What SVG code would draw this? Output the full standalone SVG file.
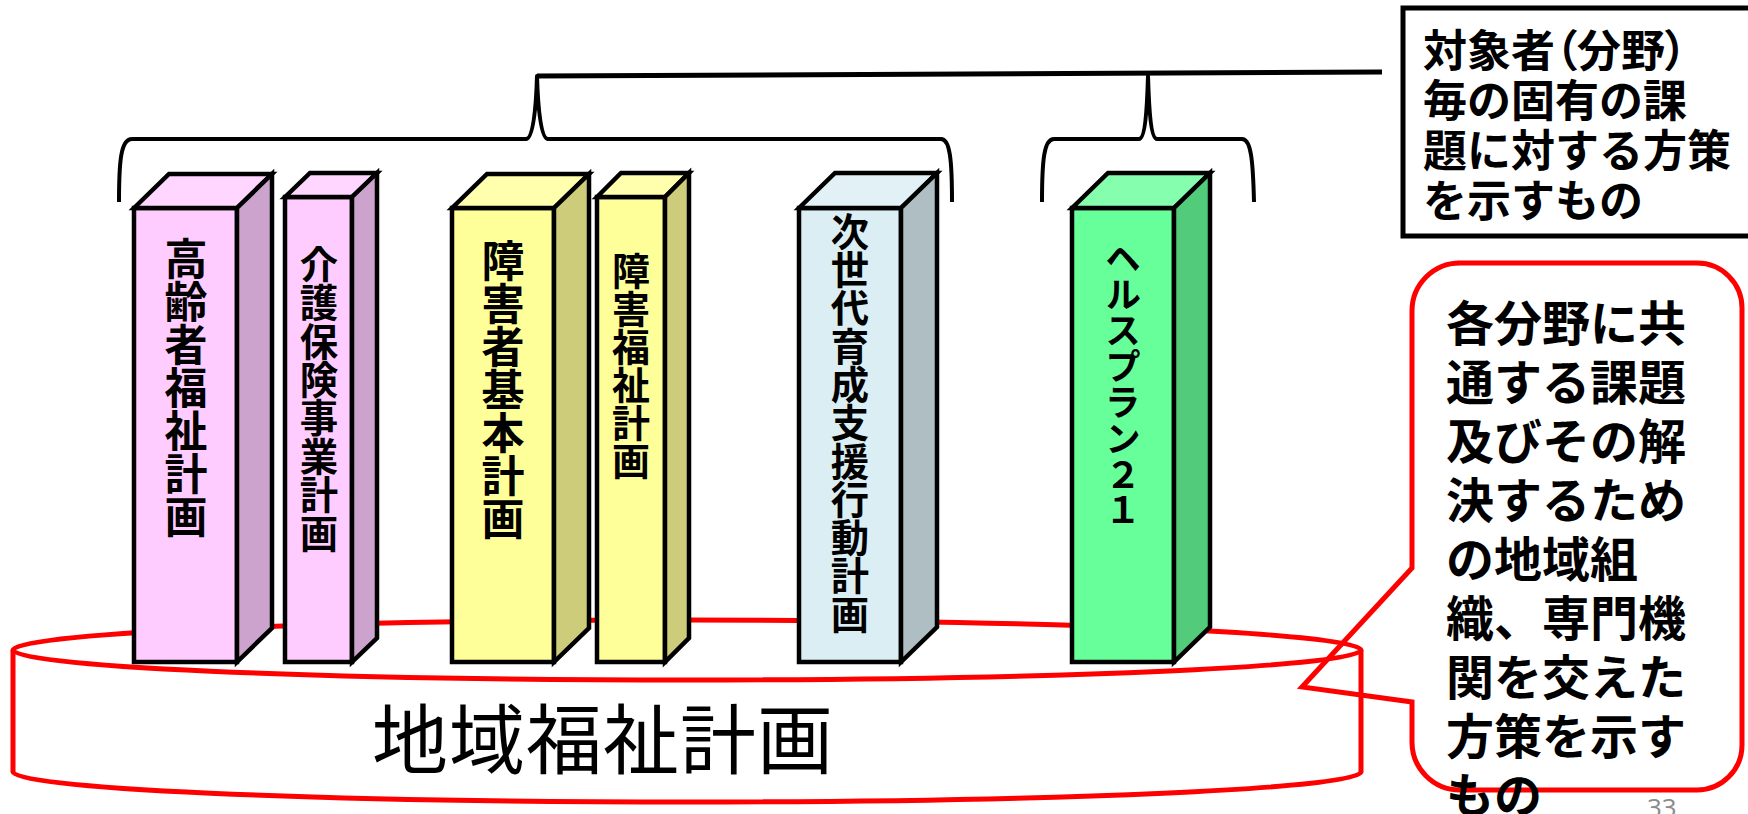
<svg xmlns="http://www.w3.org/2000/svg" width="1748" height="814" viewBox="0 0 1748 814">
<style>
.edge{stroke:#000;stroke-width:4.5;stroke-linejoin:miter}
.red{fill:none;stroke:#FF0000;stroke-width:5}
.vt{font-family:"Noto Sans CJK JP","Noto Sans CJK SC",sans-serif;writing-mode:vertical-rl;fill:#000}
.jp{font-family:"Noto Sans CJK JP","Noto Sans CJK SC",sans-serif;fill:#000}
.pf{fill:#FFCCFF}.pt{fill:#FFD6FF}.ps{fill:#CCA3CC}
.yf{fill:#FFFF99}.yt{fill:#FFFFAD}.ys{fill:#CCCC7A}
.bf{fill:#DAEEF3}.bt{fill:#E2F1F6}.bs{fill:#AEBEC2}
.gf{fill:#66FF99}.gt{fill:#85FFAD}.gs{fill:#52CC7A}
.brace{fill:none;stroke:#000;stroke-width:4;stroke-linejoin:round}
</style>
<rect width="1748" height="814" fill="#FFFFFF"/>

<g id="chiiki-fukushi-keikaku">
  <path d="M13,650 L13,772 A674,30 0 0 0 1361,772 L1361,650" fill="#FFFFFF" stroke="#FF0000" stroke-width="5"/>
  <ellipse cx="687" cy="650" rx="674" ry="30" fill="#FFFFFF" stroke="#FF0000" stroke-width="5"/>
  <text class="jp" x="372" y="768" font-size="76" letter-spacing="1">地域福祉計画</text>
</g>

<g id="block-koureisha">
  <polygon class="edge pf" points="134,208 237,208 237,662 134,662"/>
  <polygon class="edge pt" points="134,208 169,174 272,174 237,208"/>
  <polygon class="edge ps" points="237,208 272,174 272,628 237,662"/>
  <text class="vt" x="186" y="237" font-size="43" font-weight="700">高齢者福祉計画</text>
</g>

<g id="block-kaigo">
  <polygon class="edge pf" points="285,197 352,197 352,662 285,662"/>
  <polygon class="edge pt" points="285,197 310,173 377,173 352,197"/>
  <polygon class="edge ps" points="352,197 377,173 377,638 352,662"/>
  <text class="vt" x="319" y="245" font-size="38.4" font-weight="700">介護保険事業計画</text>
</g>

<g id="block-shougaisha">
  <polygon class="edge yf" points="452,208 554,208 554,662 452,662"/>
  <polygon class="edge yt" points="452,208 487,174 589,174 554,208"/>
  <polygon class="edge ys" points="554,208 589,174 589,628 554,662"/>
  <text class="vt" x="503" y="239" font-size="43" font-weight="700">障害者基本計画</text>
</g>

<g id="block-shougai-fukushi">
  <polygon class="edge yf" points="597,197 665,197 665,662 597,662"/>
  <polygon class="edge yt" points="597,197 621,173 689,173 665,197"/>
  <polygon class="edge ys" points="665,197 689,173 689,638 665,662"/>
  <text class="vt" x="631" y="252" font-size="38" font-weight="700">障害福祉計画</text>
</g>

<g id="block-jisedai">
  <polygon class="edge bf" points="799,208 901,208 901,662 799,662"/>
  <polygon class="edge bt" points="799,208 835,173 937,173 901,208"/>
  <polygon class="edge bs" points="901,208 937,173 937,627 901,662"/>
  <text class="vt" x="850" y="212" font-size="38.3" font-weight="700">次世代育成支援行動計画</text>
</g>

<g id="block-healthplan">
  <polygon class="edge gf" points="1072,208 1174,208 1174,662 1072,662"/>
  <polygon class="edge gt" points="1072,208 1108,173 1210,173 1174,208"/>
  <polygon class="edge gs" points="1174,208 1210,173 1210,627 1174,662"/>
  <text class="vt" x="1123" y="240" font-size="36" font-weight="700">ヘルスプラン２１</text>
</g>

<g id="connectors">
  <path class="brace" d="M119,202 C119,160 121,139 132,139 L526,139 C533,139 536,110 537,76 C538,110 541,139 548,139 L941,139 C950,139 952,160 952,202"/>
  <path class="brace" d="M1042,202 C1042,160 1044,139 1054,139 L1139,139 C1145,139 1147,110 1148,76 C1149,110 1151,139 1157,139 L1242,139 C1251,139 1253,160 1254,202"/>
  <line x1="537" y1="76" x2="1382" y2="72" stroke="#000" stroke-width="5"/>
</g>

<g id="note-taishousha">
  <rect x="1403" y="8" width="360" height="228" fill="#FFFFFF" stroke="#000" stroke-width="5"/>
  <text class="jp" font-size="44" font-weight="700">
    <tspan x="1423" y="67" style="font-feature-settings:'palt'">対象者（分野）</tspan>
    <tspan x="1423" y="117">毎の固有の課</tspan>
    <tspan x="1423" y="167">題に対する方策</tspan>
    <tspan x="1423" y="217">を示すもの</tspan>
  </text>
</g>

<g id="callout-kyoutsuu">
  <path class="red" d="M1457,263 H1697 A45,45 0 0 1 1742,308 V745 A45,45 0 0 1 1697,790 H1460 A48,48 0 0 1 1412,742 V702 L1302,687 L1412,568 V311 A48,48 0 0 1 1460,263 Z"/>
  <text class="jp" font-size="48" font-weight="700">
    <tspan x="1446" y="341">各分野に共</tspan>
    <tspan x="1446" y="400">通する課題</tspan>
    <tspan x="1446" y="459">及びその解</tspan>
    <tspan x="1446" y="518">決するため</tspan>
    <tspan x="1446" y="577">の地域組</tspan>
    <tspan x="1446" y="636">織、専門機</tspan>
    <tspan x="1446" y="695">関を交えた</tspan>
    <tspan x="1446" y="754">方策を示す</tspan>
    <tspan x="1446" y="813">もの</tspan>
  </text>
</g>

<text x="1647" y="817" font-family="Open Sans, Liberation Sans, sans-serif" font-size="26" fill="#8C8C8C">33</text>
</svg>
